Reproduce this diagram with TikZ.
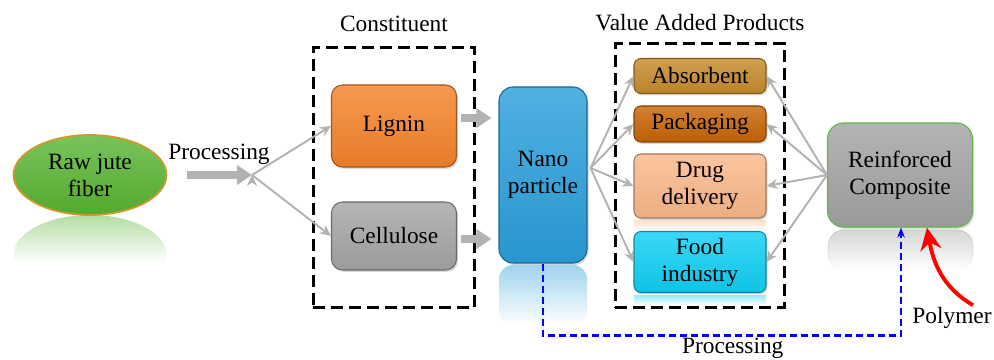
\documentclass[tikz,border=0pt]{standalone}
\usepackage{fontspec}
\setmainfont{Liberation Serif}
\usetikzlibrary{positioning,fit,arrows.meta,fadings,shadows,shapes.geometric}

\definecolor{jutegreen}{HTML}{58B431}
\definecolor{jutering}{HTML}{D09A2A}
\definecolor{ligninorange}{HTML}{F5832A}
\definecolor{cellgray}{HTML}{A5A5A5}
\definecolor{nanoblue}{HTML}{2A9FDB}
\definecolor{absorbgold}{HTML}{C58B2A}
\definecolor{packorange}{HTML}{C86506}
\definecolor{drugpeach}{HTML}{FBB88A}
\definecolor{foodcyan}{HTML}{10CFF3}
\definecolor{compgray}{HTML}{A3A3A3}
\definecolor{compgreen}{HTML}{5CB848}
\tikzfading[name=fadedown, top color=transparent!55, bottom color=transparent!100]

\begin{document}
\begin{tikzpicture}[node distance=2cm,on grid,
	font=\fontsize{13.3}{15.4}\selectfont,
	blob/.style={draw=#1!65!black, top color=#1!82!white, bottom color=#1!94!black,
		rounded corners=0.22cm, align=center, inner sep=0pt, line width=0.6pt,
		drop shadow={opacity=0.3, shadow xshift=0.03cm, shadow yshift=-0.04cm}},
	product/.style={blob=#1, rounded corners=0.14cm, minimum width=2.64cm},
	group/.style={draw, line width=1.7pt, dash pattern=on 0.24cm off 0.12cm, inner xsep=0.36cm, inner ysep=0.28cm},
	fat/.style={draw=black!30, line width=0.15cm, -{Triangle[length=0.3cm,width=0.38cm]}, shorten <=0.08cm, shorten >=0.14cm},
	link/.style={draw=black!30, line width=1.1pt, -{Stealth[length=0.22cm,width=0.2cm]}},
	mirror/.style={fill=#1, path fading=fadedown}] 
			\useasboundingbox (0,0) rectangle (19.88,-7.2);
			
			% reflections
			\path[mirror=jutegreen] (0.27,-5.1) arc[start angle=180, end angle=0, x radius=1.53cm, y radius=0.8cm] -- (3.33,-5.26) -- (0.27,-5.26) -- cycle;
			\path[mirror=nanoblue, rounded corners=0.28cm] (9.98,-5.3) rectangle (11.74,-6.5);
			\path[mirror=compgray, draw=compgreen, rounded corners=0.32cm] (16.56,-4.6) rectangle (19.46,-5.4);
			\path[mirror=drugpeach] (12.68,-4.4) rectangle (15.32,-4.62);
			\path[mirror=foodcyan] (12.68,-5.9) rectangle (15.32,-6.1);
			
			\node[ellipse, draw=jutering, line width=1pt, top color=jutegreen!80!white, bottom color=jutegreen!94!black,
				minimum width=3.06cm, minimum height=1.6cm, align=center, inner sep=0pt] (raw) at (1.8,-3.5) {Raw jute\\fiber};
			\node[blob=ligninorange, minimum width=2.5cm, minimum height=1.64cm] (lignin) [above right=0.98cm and 6.08cm of raw] {Lignin};
			\node[blob=cellgray, minimum width=2.5cm, minimum height=1.36cm] (cellulose) [below=2.2cm of lignin] {Cellulose};
			\node[blob=nanoblue, rounded corners=0.28cm, minimum width=1.76cm, minimum height=3.52cm] (nano) [right=9.06cm of raw] {Nano\\particle};
			\node[product=absorbgold, minimum height=0.7cm] (absorbent) [above right=1.98cm and 3.14cm of nano] {Absorbent};
			\node[product=packorange, minimum height=0.72cm] (packaging) [below=0.96cm of absorbent] {Packaging};
			\node[product=drugpeach, minimum height=1.28cm] (drug) [below=1.24cm of packaging] {Drug\\delivery};
			\node[product=foodcyan, minimum height=1.22cm] (food) [below=1.52cm of drug] {Food\\industry};
			\node[blob=compgray, draw=compgreen, rounded corners=0.32cm, minimum width=2.9cm, minimum height=2.08cm] (composite) [right=7.14cm of nano] {Reinforced\\Composite};
			\node (polymer) [below right=2.86cm and 1.04cm of composite] {Polymer};
			
			\node[group, fit=(lignin)(cellulose), inner xsep=0.35cm, inner ysep=0.74cm] (cbox) {};
			\node[group, fit=(absorbent)(food)] (vbox) {};
			\node [above=0.44cm of cbox.north, anchor=center] {Constituent};
			\node [above=0.4cm of vbox.north, anchor=center] {Value Added Products};
			
			\coordinate [right=3.24cm of raw] (split);
			\coordinate (fan) at ([xshift=0.06cm,yshift=0.14cm]nano.east);
			\coordinate [below=1.44cm of nano.south] (dip);
			
			\path[fat, shorten <=0.4cm, shorten >=0pt] (raw) -- node[pos=0.61, anchor=base, yshift=0.3cm] {Processing} (split);
			\path[link] (split) edge (lignin.west) edge (cellulose.west);
			\path[fat] ([yshift=0.16cm]lignin.east) -- ([yshift=0.16cm]lignin.east -| nano.west);
			\path[fat] ([yshift=-0.06cm]cellulose.east) -- ([yshift=-0.06cm]cellulose.east -| nano.west);
			\foreach \p in {absorbent,packaging,drug,food} {
				\path[link] (fan) -- (\p.west);
				\path[link] (composite.west) -- (\p.east);
			}
			\draw[blue, line width=1.2pt, dash pattern=on 0.14cm off 0.08cm, -{Stealth[length=0.2cm]}]
			(nano.south) -- (dip) -| node[pos=0.265, anchor=base, yshift=-0.36cm, text=black] {Processing} ([xshift=0.02cm]composite.south);
			\draw[red, line width=2.2pt, -{Stealth[length=0.45cm,width=0.42cm]}]
			([xshift=0.42cm,yshift=-0.08cm]polymer.north) to[out=150, in=-80] ([xshift=0.54cm]composite.south);
			
		\end{tikzpicture}
\end{document}
